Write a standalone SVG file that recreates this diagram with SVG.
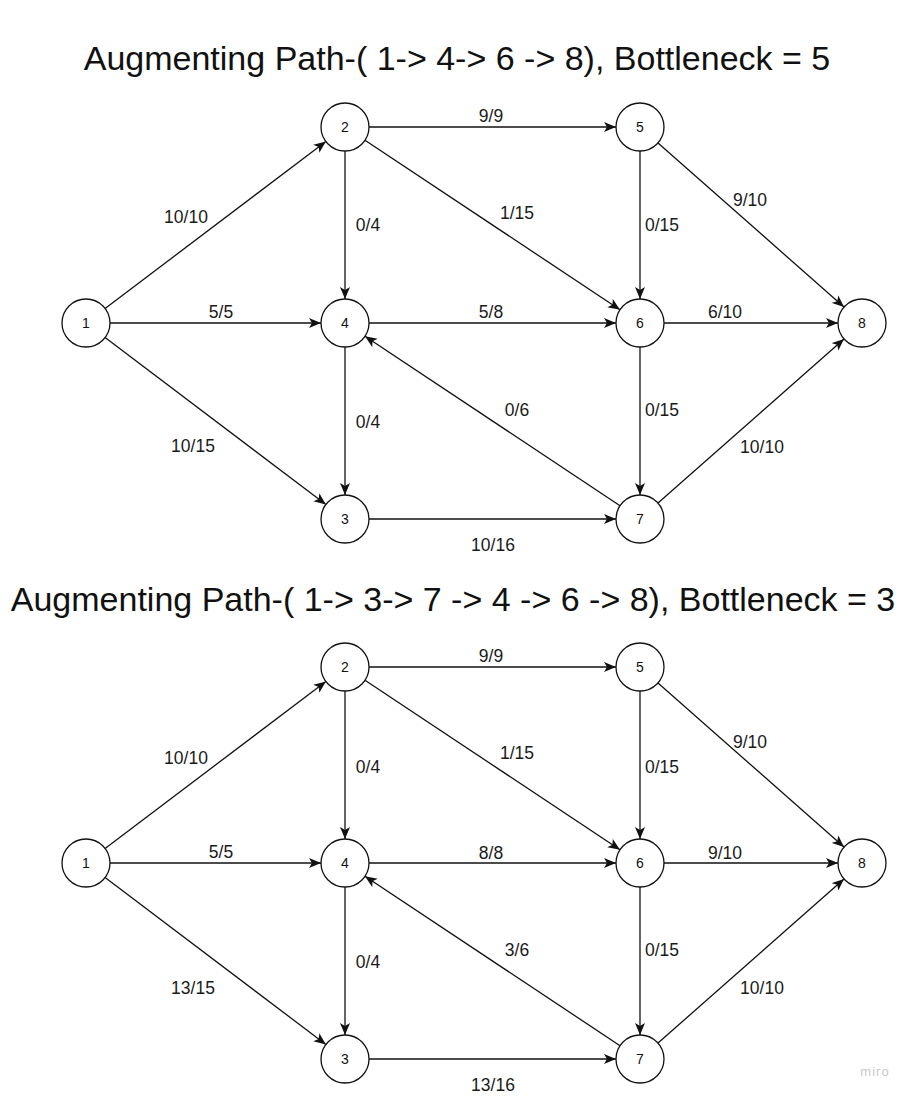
<svg xmlns="http://www.w3.org/2000/svg" width="911" height="1097" viewBox="0 0 911 1097">
<style>
.title{font-family:"Liberation Sans",Arial,sans-serif;font-size:34px;fill:#111;text-anchor:middle}
.nd circle{fill:#fff;stroke:#111;stroke-width:1.3}
.nd text{font-family:"Liberation Sans",Arial,sans-serif;font-size:14px;fill:#111;text-anchor:middle;dominant-baseline:central}
.ed line{stroke:#111;stroke-width:1.3;marker-end:url(#arr)}
.lbl{font-family:"Liberation Sans",Arial,sans-serif;font-size:17.5px;fill:#1a1a1a;text-anchor:middle;dominant-baseline:central}
.miro{font-family:"Liberation Sans",Arial,sans-serif;font-size:13px;fill:#c9c9c9;letter-spacing:1px;text-anchor:middle}
</style>
<defs>
<marker id="arr" markerUnits="userSpaceOnUse" markerWidth="13" markerHeight="11" refX="12" refY="5.5" orient="auto">
<path d="M0,0.5 L12,5.5 L0,10.5 L3,5.5 z" fill="#111"/>
</marker>
</defs>
<rect width="911" height="1097" fill="#fff"/>

<text class="title" x="457" y="70">Augmenting Path-( 1-&gt; 4-&gt; 6 -&gt; 8), Bottleneck = 5</text>
<text class="title" x="453" y="611">Augmenting Path-( 1-&gt; 3-&gt; 7 -&gt; 4 -&gt; 6 -&gt; 8), Bottleneck = 3</text>

<g id="graph1">
<g id="g1-connectors" class="ed">
<line x1="105.1" y1="308.5" x2="325.9" y2="141.5"/>
<line x1="110" y1="323" x2="321" y2="323"/>
<line x1="105.1" y1="337.5" x2="325.9" y2="504.5"/>
<line x1="369" y1="127" x2="616" y2="127"/>
<line x1="345" y1="151" x2="345" y2="299"/>
<line x1="365" y1="140.3" x2="620" y2="309.7"/>
<line x1="640" y1="151" x2="640" y2="299"/>
<line x1="658" y1="142.9" x2="844" y2="307.1"/>
<line x1="369" y1="323" x2="616" y2="323"/>
<line x1="664" y1="323" x2="838" y2="323"/>
<line x1="345" y1="347" x2="345" y2="495"/>
<line x1="620" y1="505.7" x2="365" y2="336.3"/>
<line x1="640" y1="347" x2="640" y2="495"/>
<line x1="658" y1="503.1" x2="844" y2="338.9"/>
<line x1="369" y1="519" x2="616" y2="519"/>
</g>
<g id="g1-labels">
<text class="lbl" x="491" y="116">9/9</text>
<text class="lbl" x="186" y="217">10/10</text>
<text class="lbl" x="368" y="225">0/4</text>
<text class="lbl" x="517" y="213">1/15</text>
<text class="lbl" x="662" y="225">0/15</text>
<text class="lbl" x="750" y="200">9/10</text>
<text class="lbl" x="221" y="312">5/5</text>
<text class="lbl" x="491" y="312">5/8</text>
<text class="lbl" x="725" y="312">6/10</text>
<text class="lbl" x="368" y="422">0/4</text>
<text class="lbl" x="517" y="410">0/6</text>
<text class="lbl" x="662" y="410">0/15</text>
<text class="lbl" x="762" y="447">10/10</text>
<text class="lbl" x="193" y="446">10/15</text>
<text class="lbl" x="493" y="545">10/16</text>
</g>
<g id="g1-n1" class="nd"><circle cx="86" cy="323" r="24"/><text x="86" y="323">1</text></g>
<g id="g1-n2" class="nd"><circle cx="345" cy="127" r="24"/><text x="345" y="127">2</text></g>
<g id="g1-n3" class="nd"><circle cx="345" cy="519" r="24"/><text x="345" y="519">3</text></g>
<g id="g1-n4" class="nd"><circle cx="345" cy="323" r="24"/><text x="345" y="323">4</text></g>
<g id="g1-n5" class="nd"><circle cx="640" cy="127" r="24"/><text x="640" y="127">5</text></g>
<g id="g1-n6" class="nd"><circle cx="640" cy="323" r="24"/><text x="640" y="323">6</text></g>
<g id="g1-n7" class="nd"><circle cx="640" cy="519" r="24"/><text x="640" y="519">7</text></g>
<g id="g1-n8" class="nd"><circle cx="862" cy="323" r="24"/><text x="862" y="323">8</text></g>
</g>

<g id="graph2" transform="translate(0,540)">
<g id="g2-connectors" class="ed">
<line x1="105.1" y1="308.5" x2="325.9" y2="141.5"/>
<line x1="110" y1="323" x2="321" y2="323"/>
<line x1="105.1" y1="337.5" x2="325.9" y2="504.5"/>
<line x1="369" y1="127" x2="616" y2="127"/>
<line x1="345" y1="151" x2="345" y2="299"/>
<line x1="365" y1="140.3" x2="620" y2="309.7"/>
<line x1="640" y1="151" x2="640" y2="299"/>
<line x1="658" y1="142.9" x2="844" y2="307.1"/>
<line x1="369" y1="323" x2="616" y2="323"/>
<line x1="664" y1="323" x2="838" y2="323"/>
<line x1="345" y1="347" x2="345" y2="495"/>
<line x1="620" y1="505.7" x2="365" y2="336.3"/>
<line x1="640" y1="347" x2="640" y2="495"/>
<line x1="658" y1="503.1" x2="844" y2="338.9"/>
<line x1="369" y1="519" x2="616" y2="519"/>
</g>
<g id="g2-labels">
<text class="lbl" x="491" y="116">9/9</text>
<text class="lbl" x="186" y="218">10/10</text>
<text class="lbl" x="368" y="227">0/4</text>
<text class="lbl" x="517" y="213">1/15</text>
<text class="lbl" x="662" y="227">0/15</text>
<text class="lbl" x="750" y="202">9/10</text>
<text class="lbl" x="221" y="312">5/5</text>
<text class="lbl" x="491" y="313">8/8</text>
<text class="lbl" x="725" y="313">9/10</text>
<text class="lbl" x="368" y="422">0/4</text>
<text class="lbl" x="517" y="410">3/6</text>
<text class="lbl" x="662" y="410">0/15</text>
<text class="lbl" x="762" y="448">10/10</text>
<text class="lbl" x="193" y="448">13/15</text>
<text class="lbl" x="493" y="545">13/16</text>
</g>
<g id="g2-n1" class="nd"><circle cx="86" cy="323" r="24"/><text x="86" y="323">1</text></g>
<g id="g2-n2" class="nd"><circle cx="345" cy="127" r="24"/><text x="345" y="127">2</text></g>
<g id="g2-n3" class="nd"><circle cx="345" cy="519" r="24"/><text x="345" y="519">3</text></g>
<g id="g2-n4" class="nd"><circle cx="345" cy="323" r="24"/><text x="345" y="323">4</text></g>
<g id="g2-n5" class="nd"><circle cx="640" cy="127" r="24"/><text x="640" y="127">5</text></g>
<g id="g2-n6" class="nd"><circle cx="640" cy="323" r="24"/><text x="640" y="323">6</text></g>
<g id="g2-n7" class="nd"><circle cx="640" cy="519" r="24"/><text x="640" y="519">7</text></g>
<g id="g2-n8" class="nd"><circle cx="862" cy="323" r="24"/><text x="862" y="323">8</text></g>
</g>

<text class="miro" x="875" y="1076">miro</text>
</svg>
